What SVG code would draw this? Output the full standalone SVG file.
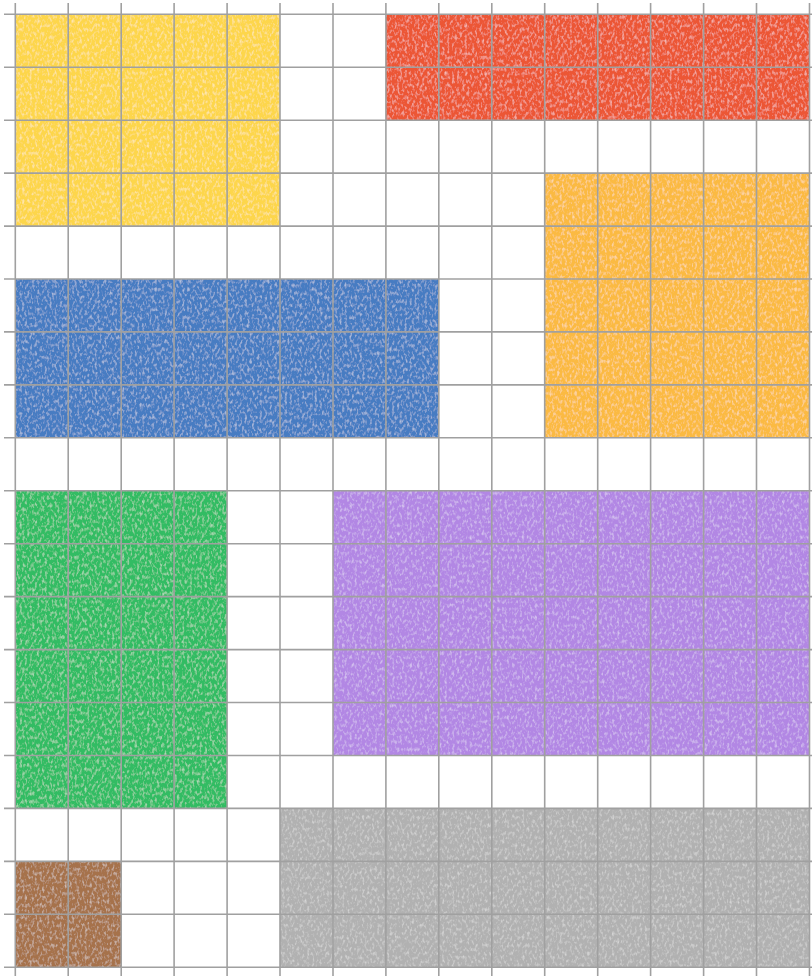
<svg xmlns="http://www.w3.org/2000/svg" width="812" height="976" viewBox="0 0 812 976">
<defs>
<filter id="tex" x="0" y="0" width="100%" height="100%">
<feTurbulence type="fractalNoise" baseFrequency="0.4 0.25" numOctaves="2" seed="5" result="n"/>
<feColorMatrix in="n" type="matrix" values="0 0 0 0 1  0 0 0 0 1  0 0 0 0 1  0 0 0 1.0 -0.48" result="w"/>
<feComposite in="w" in2="SourceGraphic" operator="in" result="wm"/>
<feMerge><feMergeNode in="SourceGraphic"/><feMergeNode in="wm"/></feMerge>
</filter>
<style>
.b{filter:url(#tex)}
.g line{stroke:#a0a0a0;stroke-width:1.6}
</style>
</defs>
<rect width="812" height="976" fill="#ffffff"/>
<g id="yellow"><rect class="b" x="15.3" y="14.3" width="264.7" height="211.8" fill="#fdd64c"/></g>
<g id="red"><rect class="b" x="385.9" y="14.3" width="423.6" height="105.9" fill="#ec5636"/></g>
<g id="orange"><rect class="b" x="544.7" y="173.1" width="264.8" height="264.7" fill="#fbba42"/></g>
<g id="blue"><rect class="b" x="15.3" y="279" width="423.5" height="158.8" fill="#467cc2"/></g>
<g id="green"><rect class="b" x="15.3" y="490.8" width="211.8" height="317.6" fill="#33bc63"/></g>
<g id="purple"><rect class="b" x="333" y="490.8" width="476.5" height="264.7" fill="#b287e4"/></g>
<g id="gray"><rect class="b" x="280" y="808.4" width="529.5" height="158.9" fill="#b1b1b1"/></g>
<g id="brown"><rect class="b" x="15.3" y="861.4" width="105.9" height="105.9" fill="#a6724c"/></g>
<g class="g" id="grid">
<line x1="15.3" y1="3" x2="15.3" y2="976"/>
<line x1="68.2" y1="3" x2="68.2" y2="976"/>
<line x1="121.2" y1="3" x2="121.2" y2="976"/>
<line x1="174.1" y1="3" x2="174.1" y2="976"/>
<line x1="227.1" y1="3" x2="227.1" y2="976"/>
<line x1="280" y1="3" x2="280" y2="976"/>
<line x1="333" y1="3" x2="333" y2="976"/>
<line x1="385.9" y1="3" x2="385.9" y2="976"/>
<line x1="438.8" y1="3" x2="438.8" y2="976"/>
<line x1="491.8" y1="3" x2="491.8" y2="976"/>
<line x1="544.7" y1="3" x2="544.7" y2="976"/>
<line x1="597.7" y1="3" x2="597.7" y2="976"/>
<line x1="650.6" y1="3" x2="650.6" y2="976"/>
<line x1="703.6" y1="3" x2="703.6" y2="976"/>
<line x1="756.5" y1="3" x2="756.5" y2="976"/>
<line x1="809.5" y1="3" x2="809.5" y2="976"/>
<line x1="4" y1="14.3" x2="812" y2="14.3"/>
<line x1="4" y1="67.2" x2="812" y2="67.2"/>
<line x1="4" y1="120.2" x2="812" y2="120.2"/>
<line x1="4" y1="173.1" x2="812" y2="173.1"/>
<line x1="4" y1="226.1" x2="812" y2="226.1"/>
<line x1="4" y1="279" x2="812" y2="279"/>
<line x1="4" y1="331.9" x2="812" y2="331.9"/>
<line x1="4" y1="384.9" x2="812" y2="384.9"/>
<line x1="4" y1="437.8" x2="812" y2="437.8"/>
<line x1="4" y1="490.8" x2="812" y2="490.8"/>
<line x1="4" y1="543.7" x2="812" y2="543.7"/>
<line x1="4" y1="596.6" x2="812" y2="596.6"/>
<line x1="4" y1="649.6" x2="812" y2="649.6"/>
<line x1="4" y1="702.5" x2="812" y2="702.5"/>
<line x1="4" y1="755.5" x2="812" y2="755.5"/>
<line x1="4" y1="808.4" x2="812" y2="808.4"/>
<line x1="4" y1="861.4" x2="812" y2="861.4"/>
<line x1="4" y1="914.3" x2="812" y2="914.3"/>
<line x1="4" y1="967.3" x2="812" y2="967.3"/>
</g>
</svg>
